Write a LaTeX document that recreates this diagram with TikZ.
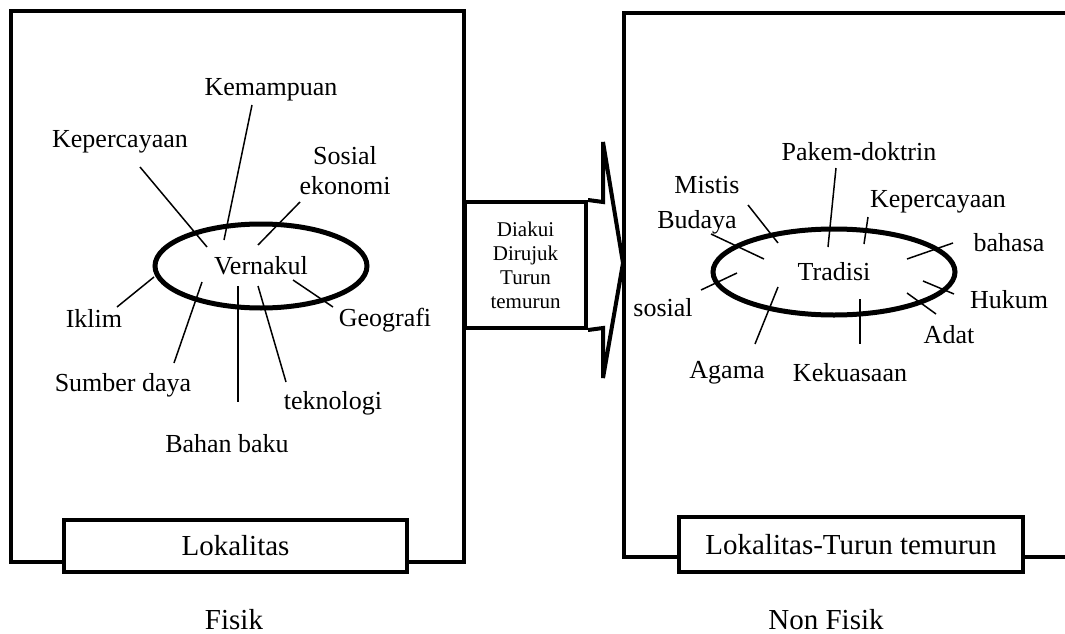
\documentclass[tikz,border=0pt]{standalone}
\usepackage{fontspec}
\setmainfont{Liberation Serif}
\usetikzlibrary{shapes.geometric}
\begin{document}
\begin{tikzpicture}[x=1pt,y=-1pt,
  frame/.style={line width=4pt,line join=miter},
  spoke/.style={line width=1.5pt},
  lbl/.style={inner sep=0pt,font=\fontsize{26}{30}\selectfont},
  big/.style={inner sep=0pt,font=\fontsize{29}{33}\selectfont},
  oval/.style={draw,ellipse,line width=5pt,inner sep=0pt,font=\fontsize{26}{30}\selectfont},
  tagbox/.style={draw,fill=white,line width=4pt,rectangle,inner sep=0pt,font=\fontsize{29}{33}\selectfont}]
\useasboundingbox (0,0) rectangle (1065,634);
\clip (0,0) rectangle (1065,634);
% ---------- left frame ----------
\draw[frame] (11,11) rectangle (464,562);
\node[tagbox,minimum width=343pt,minimum height=52pt] (lok) at (235.5,546) {\raisebox{-5pt}{Lokalitas}};
\node[big] (fisik) at (234,620) {Fisik};
% ---------- right frame ----------
\draw[frame] (1090,13) -- (624,13) -- (624,557) -- (1090,557);
\node[tagbox,minimum width=344pt,minimum height=55pt] (lokt) at (851,544.5) {\raisebox{-4pt}{Lokalitas-Turun temurun}};
\node[big] (nonfisik) at (826,620) {Non Fisik};
% ---------- middle arrow ----------
\node[draw,line width=4pt,minimum width=121pt,minimum height=126pt,inner sep=0pt,
  align=center,font=\fontsize{21}{24}\selectfont] (diak) at (525.5,265)
  {Diakui\\Dirujuk\\Turun\\temurun};
\coordinate (tip) at (623,263);
\coordinate (bt) at (603,142);
\coordinate (bb) at (603,378);
\draw[frame] (diak.north east) -- (603,202) -- (bt) -- (tip) -- (bb) -- (603,328) -- (diak.south east);
% ---------- left ellipse ----------
\node[oval,minimum width=212pt,minimum height=84pt] (vern) at (261,266) {Vernakul};
\node[lbl] (kem) at (271,90) {Kemampuan};
\node[lbl] (kep) at (120,142) {Kepercayaan};
\node[lbl,align=center] (sos) at (345,171) {Sosial\\ekonomi};
\node[lbl] (ikl) at (94,318) {Iklim};
\node[lbl] (geo) at (385,320) {Geografi};
\node[lbl] (sum) at (123,385) {Sumber daya};
\node[lbl] (tek) at (333,403) {teknologi};
\node[lbl] (bah) at (227,444) {Bahan baku};
\draw[spoke] (140,167) -- (207,247);
\draw[spoke] (252,105) -- (224,240);
\draw[spoke] (300,202) -- (258,245);
\draw[spoke] (117,307) -- (154,277);
\draw[spoke] (174,363) -- (202,282);
\draw[spoke] (238,286) -- (238,402);
\draw[spoke] (258,286) -- (286,382);
\draw[spoke] (293,280) -- (333,307);
% ---------- right ellipse ----------
\node[oval,minimum width=242pt,minimum height=86pt] (trad) at (834,272) {Tradisi};
\node[lbl] (pak) at (859,152) {Pakem-doktrin};
\node[lbl] (mis) at (707,185) {Mistis};
\node[lbl] (bud) at (697,222) {Budaya};
\node[lbl] (kep2) at (938,202) {Kepercayaan};
\node[lbl] (bhs) at (1009,243) {bahasa};
\node[lbl] (huk) at (1009,300) {Hukum};
\node[lbl] (ada) at (949,335) {Adat};
\node[lbl] (sosl) at (663,308) {sosial};
\node[lbl] (aga) at (727,373) {Agama};
\node[lbl] (kek) at (850,373) {Kekuasaan};
\draw[spoke] (836,168) -- (828,247);
\draw[spoke] (748,205) -- (778,243);
\draw[spoke] (711,234) -- (764,259);
\draw[spoke] (868,217) -- (864,244);
\draw[spoke] (953,243) -- (907,259);
\draw[spoke] (923,281) -- (954,294);
\draw[spoke] (907,293) -- (936,314);
\draw[spoke] (860,299) -- (860,344);
\draw[spoke] (778,287) -- (755,344);
\draw[spoke] (701,290) -- (737,273);
\end{tikzpicture}
\end{document}
